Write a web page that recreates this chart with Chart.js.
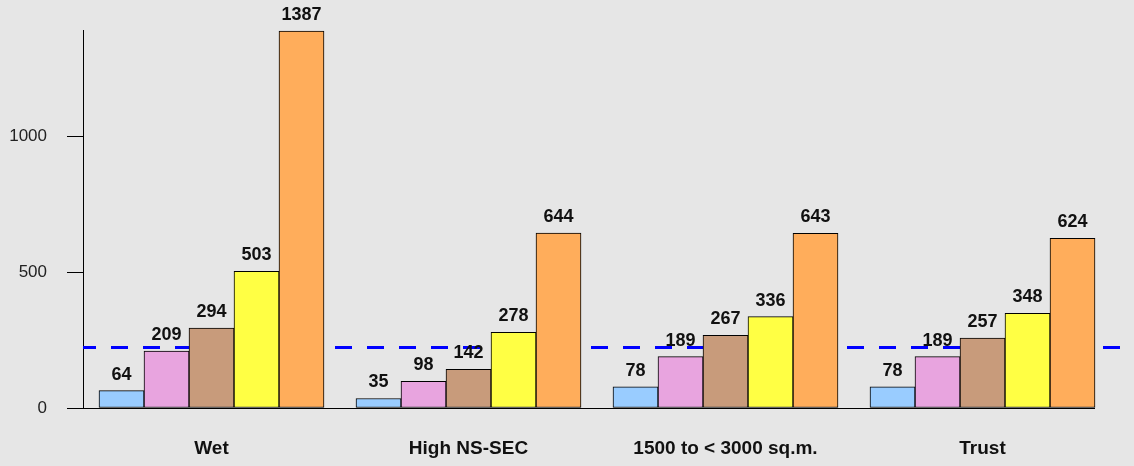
<!DOCTYPE html>
<html>
<head>
<meta charset="utf-8">
<script src="https://cdn.jsdelivr.net/npm/chart.js@4"></script>
<style>
  html, body { margin: 0; padding: 0; background: #e6e6e6; }
  #wrap { width: 1134px; height: 466px; }
</style>
</head>
<body>
<div id="wrap"><canvas id="chart" width="1134" height="466"></canvas></div>
<script>
// ---------- DATA ----------
const categories = ["Wet", "High NS-SEC", "1500 to < 3000 sq.m.", "Trust"];
const series1 = [64, 35, 78, 78];
const series2 = [209, 98, 189, 189];
const series3 = [294, 142, 267, 257];
const series4 = [503, 278, 336, 348];
const series5 = [1387, 644, 643, 624];
const seriesColors = ["#99ccff", "#e8a4df", "#c89b7b", "#ffff44", "#ffad5b"];
const averageValue = [223];
const yTicks = [0, 500, 1000];

// ---------- PLUGIN: dashed line, axis line, value labels ----------
const extras = {
    id: "extras",
    beforeDatasetsDraw(chart) {
        const ctx = chart.ctx;
        const y = chart.scales.y.getPixelForValue(averageValue[0]);
        const area = chart.chartArea;
        ctx.save();
        ctx.strokeStyle = "#0000ff";
        ctx.lineWidth = 3;
        ctx.setLineDash([17, 15]);
        ctx.lineDashOffset = 4;
        ctx.beginPath();
        ctx.moveTo(area.left, y);
        ctx.lineTo(area.right + 11, y);
        ctx.stroke();
        ctx.restore();
    },
    afterDatasetsDraw(chart) {
        const ctx = chart.ctx;
        const area = chart.chartArea;
        const y0 = chart.scales.y.getPixelForValue(0);

        // x axis line up to the last bar
        const lastMeta = chart.getDatasetMeta(chart.data.datasets.length - 1);
        const lastBar = lastMeta.data[lastMeta.data.length - 1];
        ctx.save();
        ctx.strokeStyle = "#000";
        ctx.lineWidth = 1;
        ctx.beginPath();
        ctx.moveTo(area.left, Math.round(y0) + 0.5);
        ctx.lineTo(lastBar.x + lastBar.width / 2, Math.round(y0) + 0.5);
        ctx.stroke();

        // value labels
        ctx.fillStyle = "#111";
        ctx.font = "bold 18px 'Liberation Sans', Arial, sans-serif";
        ctx.textAlign = "center";
        ctx.textBaseline = "bottom";
        chart.data.datasets.forEach((ds, i) => {
            chart.getDatasetMeta(i).data.forEach((bar, j) => {
                ctx.fillText(ds.data[j], bar.x, bar.y - 7);
            });
        });
        ctx.restore();
    }
};

// ---------- CHART ----------
const ctx = document.getElementById("chart").getContext("2d");
const allSeries = [series1, series2, series3, series4, series5];

new Chart(ctx, {
    type: "bar",
    data: {
        labels: categories,
        datasets: allSeries.map((s, i) => ({
            label: "s" + (i + 1),
            data: s,
            backgroundColor: seriesColors[i],
            borderColor: "#000",
            borderWidth: 1,
            borderSkipped: false,
            barThickness: 45
        }))
    },
    options: {
        responsive: false,
        animation: false,
        devicePixelRatio: 1,
        layout: { padding: { top: 30, right: 23, left: 0, bottom: 0 } },
        plugins: {
            legend: { display: false },
            tooltip: { enabled: false }
        },
        scales: {
            x: {
                afterFit(scale) { scale.height = 58; },
                grid: { display: false, drawTicks: false },
                border: { display: false },
                ticks: {
                    color: "#111",
                    padding: 29,
                    font: { family: "'Liberation Sans', Arial, sans-serif", size: 19, weight: "bold" }
                }
            },
            y: {
                min: 0,
                max: 1390,
                afterFit(scale) { scale.width = 83; },
                afterBuildTicks(scale) { scale.ticks = yTicks.map(v => ({ value: v })); },
                grid: {
                    drawOnChartArea: false,
                    drawTicks: true,
                    tickLength: 16,
                    color: "#000"
                },
                border: { display: true, color: "#000", width: 1 },
                ticks: {
                    color: "#222",
                    padding: 20,
                    callback: v => String(v),
                    font: { family: "'Liberation Sans', Arial, sans-serif", size: 17 }
                }
            }
        }
    },
    plugins: [extras]
});
</script>
</body>
</html>
